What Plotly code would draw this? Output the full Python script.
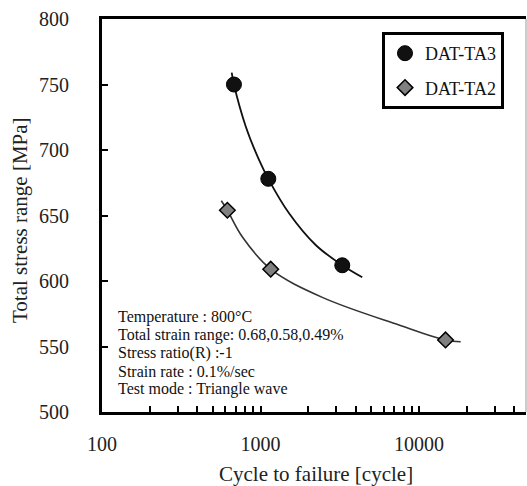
import plotly.graph_objects as go

# Data points (cycles to failure, total stress range MPa)
ta3_cycles = [680, 1120, 3280]
ta3_stress = [750, 678, 612]
ta2_cycles = [618, 1160, 14700]
ta2_stress = [654, 609, 555]

# Trend curves
ta3_curve_x = [658, 680, 807, 979, 1120, 1514, 2229, 3280, 4385]
ta3_curve_y = [759, 750, 718, 692.4, 678, 651.7, 627.5, 612, 602.8]
ta2_curve_x = [566, 618, 767, 1160, 2455, 7482, 14700, 18320]
ta2_curve_y = [661.3, 654, 633.8, 609, 587.5, 566.4, 555, 553.6]

x_tickvals = [100, 1000, 10000]
x_ticktext = ["100", "1000", "10000"]
y_tickvals = [500, 550, 600, 650, 700, 750, 800]

notes = [
    "Temperature : 800°C",
    "Total strain range: 0.68,0.58,0.49%",
    "Stress ratio(R) :-1",
    "Strain rate : 0.1%/sec",
    "Test mode : Triangle wave",
]

FONT = "Liberation Serif, Times New Roman, serif"
W, H = 527, 486
L, R, T, B = 102, 1, 19, 74
pw, ph = W - L - R, H - T - B

fig = go.Figure()
fig.add_trace(go.Scatter(x=ta3_curve_x, y=ta3_curve_y, mode="lines",
                         line=dict(color="#111", width=1.8, shape="spline"),
                         showlegend=False, hoverinfo="skip"))
fig.add_trace(go.Scatter(x=ta2_curve_x, y=ta2_curve_y, mode="lines",
                         line=dict(color="#333", width=1.6, shape="spline"),
                         showlegend=False, hoverinfo="skip"))
fig.add_trace(go.Scatter(x=ta3_cycles, y=ta3_stress, mode="markers", name="DAT-TA3",
                         legendgroup="a",
                         marker=dict(symbol="circle", size=15, color="#111",
                                     line=dict(color="#000", width=1))))
fig.add_trace(go.Scatter(x=ta2_cycles, y=ta2_stress, mode="markers", name="DAT-TA2",
                         legendgroup="b",
                         marker=dict(symbol="diamond", size=12, color="#808080",
                                     line=dict(color="#000", width=1.5))))

minor_vals = [m * 10 ** e for e in (2, 3) for m in range(2, 10)] + [20000, 30000, 40000]

fig.update_layout(
    width=W, height=H,
    margin=dict(l=L, r=R, t=T, b=B, autoexpand=False),
    paper_bgcolor="white", plot_bgcolor="white",
    font=dict(family=FONT, color="#222"),
    showlegend=True,
    legend=dict(x=(382 - L) / pw, y=(412 - 32) / ph, xanchor="left", yanchor="top",
                bordercolor="#000", borderwidth=3, bgcolor="white",
                font=dict(family=FONT, size=18, color="#111"),
                tracegroupgap=8),
    xaxis=dict(type="log", range=[2, 2 + pw / 158.5], automargin=False,
               tickvals=x_tickvals, ticktext=x_ticktext,
               ticks="inside", ticklen=6, tickwidth=2, tickcolor="#000",
               minor=dict(tickvals=minor_vals, ticks="inside", ticklen=6,
                          tickwidth=2, tickcolor="#000", showgrid=False),
               showline=True, linecolor="#000", linewidth=3, mirror=True,
               showgrid=False, zeroline=False,
               tickfont=dict(family=FONT, size=20, color="#222"),
               ticklabelstandoff=12),
    yaxis=dict(range=[500, 800], tickvals=y_tickvals, automargin=False,
               ticks="inside", ticklen=6, tickwidth=2, tickcolor="#000",
               showline=True, linecolor="#000", linewidth=3, mirror=False,
               showgrid=False, zeroline=False,
               tickfont=dict(family=FONT, size=20, color="#222"),
               ticklabelstandoff=26),
)

# axis titles
fig.add_annotation(xref="paper", yref="paper", x=(316 - L) / pw, y=(412 - 474) / ph,
                   xanchor="center", yanchor="middle", showarrow=False,
                   text="Cycle to failure [cycle]",
                   font=dict(family=FONT, size=21, color="#222"))
fig.add_annotation(xref="paper", yref="paper", x=(20 - L) / pw, y=(412 - 220) / ph,
                   xanchor="center", yanchor="middle", showarrow=False, textangle=-90,
                   text="Total stress range [MPa]",
                   font=dict(family=FONT, size=21, color="#222"))

# thin right border
fig.add_shape(type="line", xref="paper", yref="paper", x0=1, x1=1, y0=0, y1=1,
              line=dict(color="#999", width=1))

line_centers = [317, 335, 353, 371, 389]
for txt, yc in zip(notes, line_centers):
    fig.add_annotation(xref="paper", yref="paper", x=(116 - L) / pw, y=(412 - yc) / ph,
                       xanchor="left", yanchor="middle", showarrow=False, text=txt,
                       font=dict(family=FONT, size=16, color="#111"))

fig.write_html("out.html", config={"displayModeBar": False},
               post_script="document.body.style.margin='0';document.body.style.overflow='hidden';")
